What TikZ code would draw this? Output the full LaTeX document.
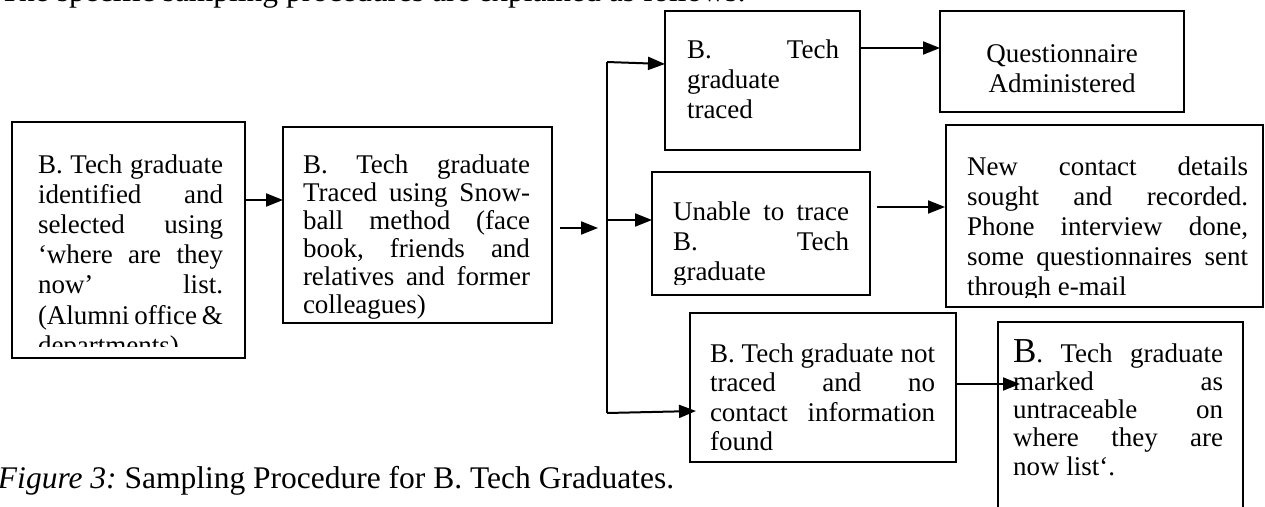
\documentclass[tikz,border=0pt]{standalone}
\usepackage{fontspec}
\setmainfont{Liberation Serif}
\usetikzlibrary{arrows.meta,calc}
\newcommand\jl[1]{\makebox[\linewidth][s]{#1}\\}
\tikzset{
  box/.style={draw, line width=2pt, inner sep=0pt, outer sep=0pt},
  txt/.style={inner sep=0pt, outer sep=0pt, anchor=base west, font=\fontsize{27}{30}\selectfont},
  big/.style={inner sep=0pt, outer sep=0pt, anchor=base west, font=\fontsize{31.5}{36}\selectfont},
  arr/.style={line width=2pt, -{Triangle[length=17pt,width=13pt]}},
  ln/.style={line width=2pt},
}
\begin{document}
\begin{tikzpicture}[x=1pt,y=-1pt]
\frenchspacing
\useasboundingbox (0,0) rectangle (1265,506);
\fill[white] (0,0) rectangle (1265,506);

% running text and caption
\node[big] (top) at (0,1.5) {The specific sampling procedures are explained as follows:};
\node[big] (cap) at (-2,488) {\textit{Figure 3:} Sampling Procedure for B. Tech Graduates.};

% boxes
\node[box, minimum width=233pt, minimum height=236pt] (b1) at (128.5,240) {};
\node[box, minimum width=269pt, minimum height=196pt] (b2) at (417.5,225) {};
\node[box, minimum width=195pt, minimum height=139pt] (b3) at (762.5,80.5) {};
\node[box, minimum width=244pt, minimum height=101pt] (bq) at (1062,61.5) {};
\node[box, minimum width=218pt, minimum height=123pt] (b4) at (761,233.5) {};
\node[box, minimum width=317pt, minimum height=182pt] (b5) at (1104.5,216) {};
\node[box, minimum width=266pt, minimum height=149pt] (b6) at (823,387.5) {};
\node[box, minimum width=245pt, minimum height=190pt] (b7) at (1120.5,417) {};

% texts
\begin{scope}
\clip (13,123) rectangle (244,346);
\node[txt, font=\fontsize{27}{30.2}\selectfont] (t1) at (38,173) {\parbox[t]{185pt}{\jl{B. Tech graduate}\jl{identified and}\jl{selected using}\jl{‘where are they}\jl{now’ list.}\jl{(Alumni office \&}departments)}};
\end{scope}
\begin{scope}
\clip (284,128) rectangle (551,322);
\node[txt, font=\fontsize{27}{28}\selectfont] (t2) at (303,173) {\parbox[t]{227pt}{\jl{B. Tech graduate}\jl{Traced using Snow-}\jl{ball method (face}\jl{book, friends and}\jl{relatives and former}colleagues)}};
\end{scope}
\node[txt] (t3) at (687,58) {\parbox[t]{152pt}{\jl{B. Tech}graduate\\traced}};
\node[txt] (tq) at (940,62) {\parbox[t]{244pt}{\centering Questionnaire\\Administered}};
\begin{scope}
\clip (653,173) rectangle (869,284);
\node[txt] (t4) at (673,220) {\parbox[t]{176pt}{\jl{Unable to trace}\jl{B. Tech}graduate}};
\end{scope}
\begin{scope}
\clip (947,126) rectangle (1262,297);
\node[txt] (t5) at (967,175) {\parbox[t]{281pt}{\jl{New contact details}\jl{sought and recorded.}\jl{Phone interview done,}\jl{some questionnaires sent}through e-mail}};
\end{scope}
\begin{scope}
\clip (691,314) rectangle (955,452);
\node[txt, font=\fontsize{27}{29.5}\selectfont] (t6) at (710,362) {\parbox[t]{225pt}{\jl{B. Tech graduate not}\jl{traced and no}\jl{contact information}found}};
\end{scope}
\node[txt, font=\fontsize{27}{28.3}\selectfont] (t7) at (1013,362) {\parbox[t]{210pt}{\jl{{\fontsize{35}{28.3}\selectfont B}. Tech graduate}\jl{marked as}\jl{untraceable on}\jl{where they are}now list‘.}};

% connectors
\coordinate (k) at (598,228);
\coordinate (jt) at (607,62);
\coordinate (jm) at (607,220);
\coordinate (jb) at (607,413);

\draw[arr] ($(b1.east)+(0,-40)$) -- ($(b2.west)+(0,-25)$);
\draw[arr] ($(b2.east |- k)+(8,0)$) -- (k);
\draw[ln] (jt) -- (jb);
\draw[arr] (jt) -- ($(b3.west)+(0,-16.5)$);
\draw[arr] (jm) -- (b4.west |- jm);
\draw[arr] (jb) -- ($(b6.west |- jb)+(6,-2)$);
\draw[arr] ($(b3.east)+(0,-32.5)$) -- ($(bq.west)+(0,-13.5)$);
\draw[arr] ($(b4.east)+(7,-26.5)$) -- ($(b5.west)+(-1,-9)$);
\draw[arr] ($(b6.east)+(0,-3.5)$) -- ($(b7.west)+(22,-33)$);
\end{tikzpicture}
\end{document}
